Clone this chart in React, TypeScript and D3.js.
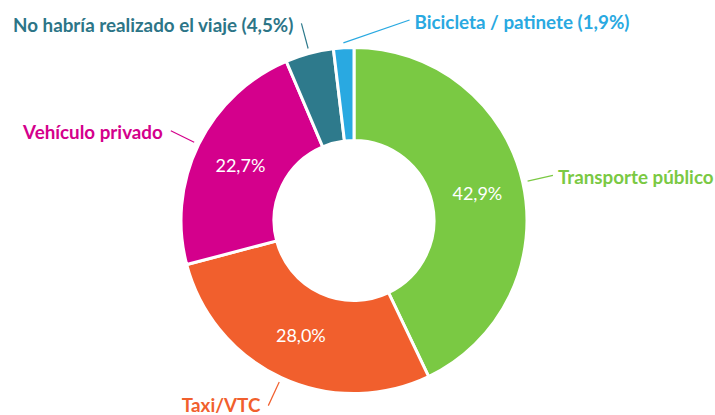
import React from "react";
import * as d3 from "d3";

const categories = [
  "Transporte público",
  "Taxi/VTC",
  "Vehículo privado",
  "No habría realizado el viaje (4,5%)",
  "Bicicleta / patinete (1,9%)",
];
const values = [42.9, 28.0, 22.7, 4.5, 1.9];
const innerLabels = ["42,9%", "28,0%", "22,7%", "", ""];
const colors = ["#7AC943", "#F15F2D", "#D4008C", "#2E7A8C", "#29A9E1"];
const textColors = ["#7AC943", "#F15F2D", "#D4008C", "#2C7587", "#29A9E1"];

const W = 715;
const H = 415;
const cx = 354;
const cy = 220.5;
const rOuter = 173;
const rInner = 80;
const lineR0 = 178;
const lineR1 = 204;

export default function App() {
  const pie = d3
    .pie<number>()
    .sort(null)
    .value((d) => d);
  const arcs = pie(values);
  const arc = d3
    .arc<d3.PieArcDatum<number>>()
    .innerRadius(rInner)
    .outerRadius(rOuter);

  const polar = (a: number, r: number): [number, number] => [
    Math.sin(a) * r,
    -Math.cos(a) * r,
  ];

  return (
    <div style={{ position: "absolute", left: 0, top: 0 }}>
      <svg
        width={W}
        height={H}
        style={{ display: "block", background: "#fff", fontFamily: "Lato, sans-serif" }}
      >
        <g transform={`translate(${cx},${cy})`}>
          {arcs.map((a, i) => (
            <path
              key={i}
              d={arc(a) || ""}
              fill={colors[i]}
              stroke="#fff"
              strokeWidth={3}
            />
          ))}
          {arcs.map((a, i) => {
            const [x, y] = arc.centroid(a);
            return innerLabels[i] ? (
              <text
                key={"il" + i}
                x={x}
                y={y}
                textAnchor="middle"
                dominantBaseline="central"
                fill="#fff"
                fontSize={18}
              >
                {innerLabels[i]}
              </text>
            ) : null;
          })}
          {arcs.map((a, i) => {
            const mid = (a.startAngle + a.endAngle) / 2;
            const [x0, y0] = polar(mid, lineR0);
            // the smallest slice's leader bends toward its label
            const endAngle = i === 4 ? mid + 0.33 : mid;
            const endR = i === 4 ? lineR1 + 4 : lineR1;
            const [x1, y1] = polar(endAngle, endR);
            const right = Math.sin(endAngle) > 0;
            const tx = x1 + (right ? 5 : -8);
            const ty = i === 1 ? y1 - 1 : y1 + 1;
            return (
              <g key={"ol" + i}>
                <line
                  x1={x0}
                  y1={y0}
                  x2={x1}
                  y2={y1}
                  stroke={colors[i]}
                  strokeWidth={1.2}
                />
                <text
                  x={tx}
                  y={ty}
                  textAnchor={right ? "start" : "end"}
                  dominantBaseline="central"
                  fill={textColors[i]}
                  fontSize={18.8}
                  fontWeight="bold"
                >
                  {categories[i]}
                </text>
              </g>
            );
          })}
        </g>
      </svg>
    </div>
  );
}
